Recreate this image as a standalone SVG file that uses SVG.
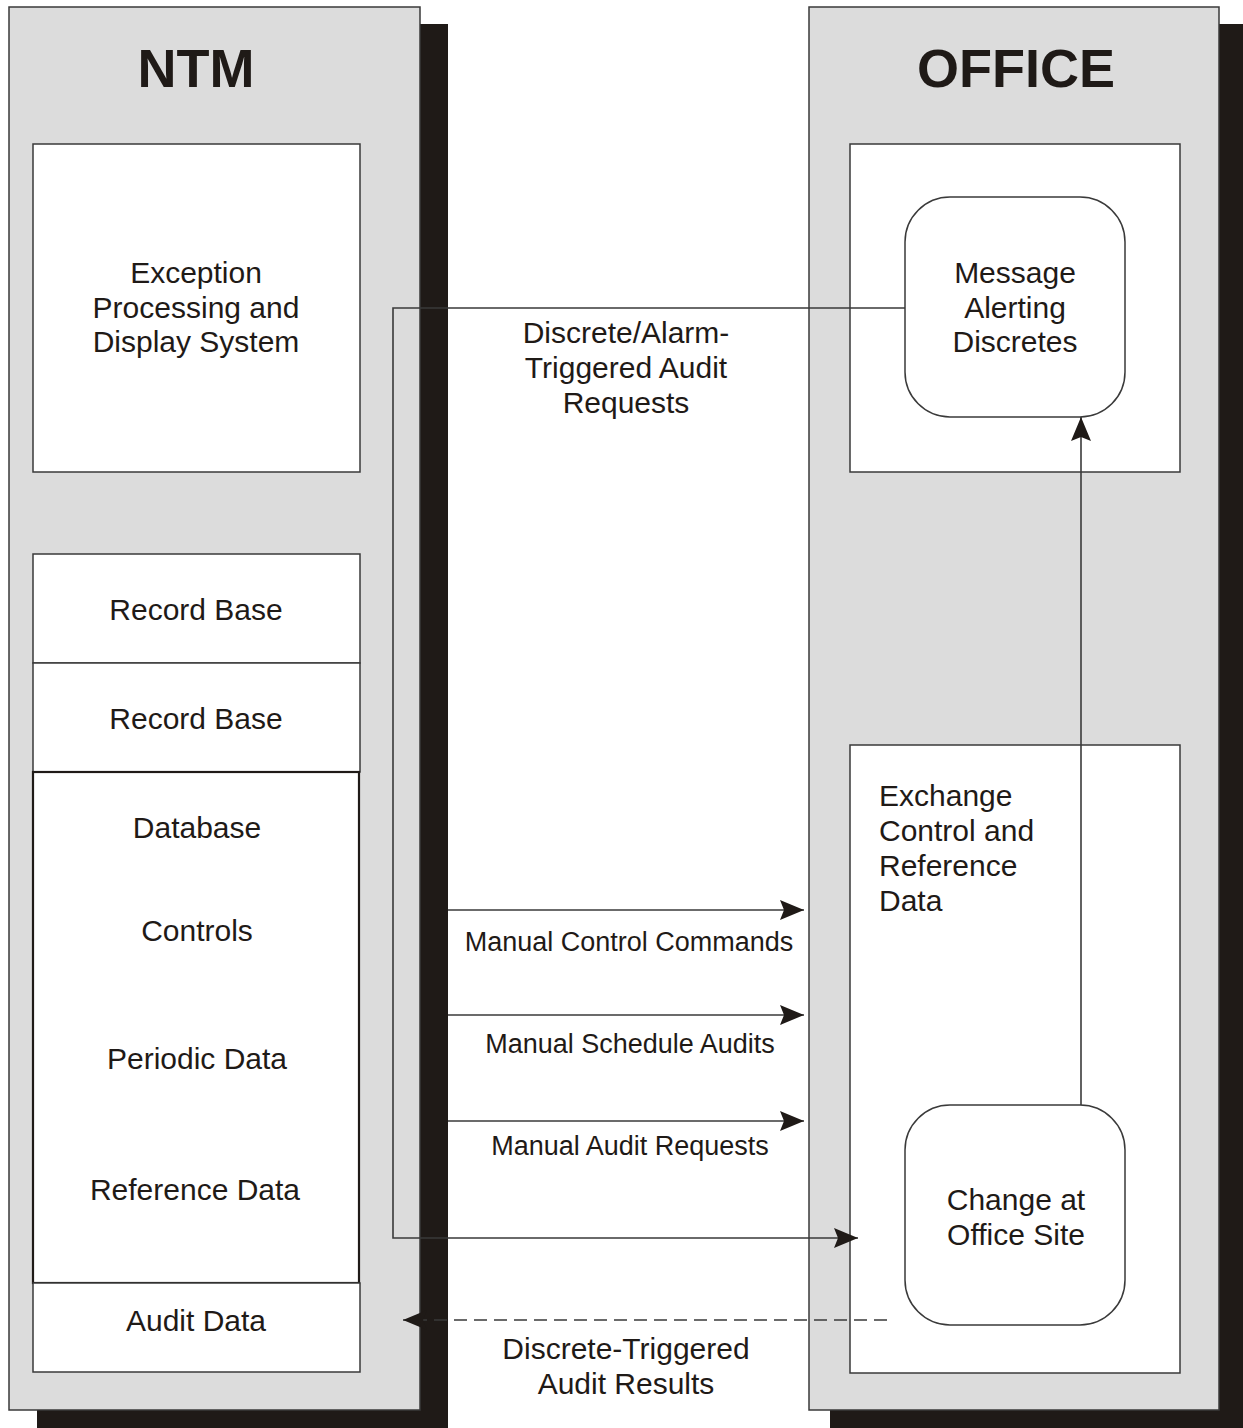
<svg xmlns="http://www.w3.org/2000/svg" width="1243" height="1428" viewBox="0 0 1243 1428">
  <style>
    .shadow { fill: #1f1a17; }
    .panel { fill: #dcdcdc; stroke: #3a3a3a; stroke-width: 1.5; }
    .box { fill: #ffffff; stroke: #3a3a3a; stroke-width: 1.5; }
    .boxbold { fill: #ffffff; stroke: #1f1a17; stroke-width: 2.2; }
    .rbox { fill: #ffffff; stroke: #3a3a3a; stroke-width: 1.5; }
    .title { font-family: "Liberation Sans", Arial, sans-serif; font-weight: bold; font-size: 54px; fill: #1f1a17; text-anchor: middle; }
    .lbl { font-family: "Liberation Sans", Arial, sans-serif; font-size: 30px; fill: #1f1a17; text-anchor: middle; }
    .lbl-l { font-family: "Liberation Sans", Arial, sans-serif; font-size: 30px; fill: #1f1a17; }
    .small { font-family: "Liberation Sans", Arial, sans-serif; font-size: 27px; fill: #1f1a17; text-anchor: middle; }
    .line { fill: none; stroke: #3a3a3a; stroke-width: 1.6; }
    .dash { fill: none; stroke: #3a3a3a; stroke-width: 1.6; stroke-dasharray: 13 7; }
  </style>
  <defs>
    <marker id="arrow" viewBox="0 0 24 20" refX="24" refY="10" markerWidth="24" markerHeight="20" markerUnits="userSpaceOnUse" orient="auto">
      <path d="M0,0 L24,10 L0,20 L4,10 Z" fill="#1f1a17"/>
    </marker>
  </defs>

  <rect width="1243" height="1428" fill="#ffffff"/>

  <!-- NTM column -->
  <g id="ntm">
    <rect class="shadow" x="37" y="24" width="411" height="1404"/>
    <rect class="panel" x="9" y="7" width="411" height="1403"/>
    <text class="title" x="196" y="87">NTM</text>
  </g>

  <!-- OFFICE column -->
  <g id="office">
    <rect class="shadow" x="830" y="24" width="413" height="1404"/>
    <rect class="panel" x="809" y="7" width="410" height="1403"/>
    <text class="title" x="1016" y="87">OFFICE</text>
  </g>

  <g id="exception-system">
    <rect class="box" x="33" y="144" width="327" height="328"/>
    <text class="lbl" x="196" y="283">Exception</text>
    <text class="lbl" x="196" y="317.5">Processing and</text>
    <text class="lbl" x="196" y="352">Display System</text>
  </g>

  <g id="record-base-1">
    <rect class="box" x="33" y="554" width="327" height="109"/>
    <text class="lbl" x="196" y="620">Record Base</text>
  </g>

  <g id="record-base-2">
    <rect class="box" x="33" y="663" width="327" height="109"/>
    <text class="lbl" x="196" y="729">Record Base</text>
  </g>

  <g id="database">
    <rect class="boxbold" x="33" y="772" width="326" height="511"/>
    <text class="lbl" x="197" y="838">Database</text>
    <text class="lbl" x="197" y="941">Controls</text>
    <text class="lbl" x="197" y="1069">Periodic Data</text>
    <text class="lbl" x="195" y="1200">Reference Data</text>
  </g>

  <g id="audit-data">
    <rect class="box" x="33" y="1283" width="327" height="89"/>
    <text class="lbl" x="196" y="1331">Audit Data</text>
  </g>

  <g id="office-top">
    <rect class="box" x="850" y="144" width="330" height="328"/>
  </g>

  <g id="message-alerting">
    <rect class="rbox" x="905" y="197" width="220" height="220" rx="45" ry="45"/>
    <text class="lbl" x="1015" y="283">Message</text>
    <text class="lbl" x="1015" y="317.5">Alerting</text>
    <text class="lbl" x="1015" y="352">Discretes</text>
  </g>

  <g id="exchange-control">
    <rect class="box" x="850" y="745" width="330" height="628"/>
    <text class="lbl-l" x="879" y="806">Exchange</text>
    <text class="lbl-l" x="879" y="841">Control and</text>
    <text class="lbl-l" x="879" y="876">Reference</text>
    <text class="lbl-l" x="879" y="911">Data</text>
  </g>

  <g id="change-office">
    <rect class="rbox" x="905" y="1105" width="220" height="220" rx="45" ry="45"/>
    <text class="lbl" x="1016" y="1210">Change at</text>
    <text class="lbl" x="1016" y="1245">Office Site</text>
  </g>

  <!-- connectors -->
  <g id="connectors">
    <!-- alarm-triggered audit request loop -->
    <path class="line" d="M905,308 H393 V1238 H858" marker-end="url(#arrow)"/>
    <path class="line" d="M448,910 H804" marker-end="url(#arrow)"/>
    <path class="line" d="M448,1015 H804" marker-end="url(#arrow)"/>
    <path class="line" d="M448,1121 H804" marker-end="url(#arrow)"/>
    <path class="line" d="M1081,1105 V417" marker-end="url(#arrow)"/>
    <path class="dash" d="M887,1320 H403" marker-end="url(#arrow)"/>
  </g>

  <g id="connector-labels">
    <text class="lbl" x="626" y="343">Discrete/Alarm-</text>
    <text class="lbl" x="626" y="378">Triggered Audit</text>
    <text class="lbl" x="626" y="413">Requests</text>
    <text class="small" x="629" y="951">Manual Control Commands</text>
    <text class="small" x="630" y="1053">Manual Schedule Audits</text>
    <text class="small" x="630" y="1155">Manual Audit Requests</text>
    <text class="lbl" x="626" y="1359">Discrete-Triggered</text>
    <text class="lbl" x="626" y="1394">Audit Results</text>
  </g>
</svg>
